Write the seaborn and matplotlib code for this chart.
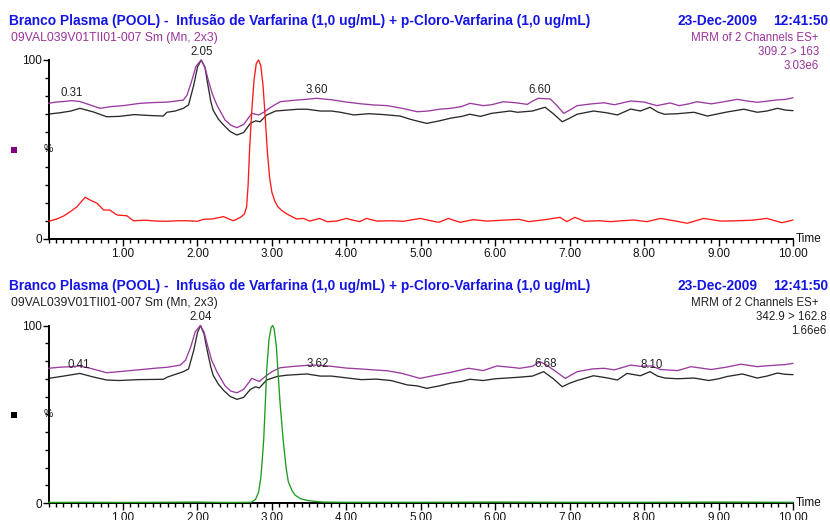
import numpy as np
import pandas as pd
import matplotlib
matplotlib.use("Agg")
import matplotlib.pyplot as plt
from matplotlib.patches import Rectangle
from matplotlib.ticker import MultipleLocator, FixedLocator
import seaborn as sns

# ---------------- data (retention time in min, relative intensity in %) ----------------
# upper panel: 309.2 > 163 (red) with the two infusion baselines
top_purple_t = [0.00, 0.10, 0.20, 0.31, 0.42, 0.55, 0.69, 0.85, 1.00, 1.23,
                1.40, 1.60, 1.81, 1.86, 1.92, 1.98, 2.05, 2.10, 2.15, 2.20,
                2.26, 2.37, 2.45, 2.53, 2.62, 2.73, 2.82, 2.89, 2.98, 3.11,
                3.30, 3.45, 3.60, 3.80, 4.00, 4.20, 4.36, 4.55, 4.75, 4.95,
                5.10, 5.25, 5.40, 5.55, 5.66, 5.84, 5.95, 6.11, 6.30, 6.43,
                6.50, 6.58, 6.74, 6.83, 6.92, 7.00, 7.10, 7.30, 7.46, 7.60,
                7.82, 8.00, 8.17, 8.35, 8.47, 8.60, 8.71, 8.90, 9.05, 9.25,
                9.40, 9.52, 9.65, 9.79, 9.90, 10.00]
top_purple_v = [75.8, 76.5, 76.8, 77.3, 76.8, 75.0, 73.0, 74.0, 74.5, 75.8,
                76.2, 76.5, 77.6, 80.4, 88.0, 96.5, 100.0, 96.0, 88.0, 81.0,
                74.9, 66.5, 63.5, 62.2, 64.0, 70.2, 69.3, 70.8, 73.5, 76.7,
                77.5, 78.0, 78.6, 77.8, 76.5, 75.5, 74.9, 74.5, 73.0, 71.1,
                71.5, 72.5, 73.0, 74.0, 75.8, 74.5, 75.0, 76.7, 76.0, 75.2,
                77.0, 78.6, 78.2, 74.5, 70.2, 72.0, 74.5, 75.5, 76.1, 75.0,
                77.1, 76.5, 74.5, 76.0, 74.5, 75.5, 76.7, 75.5, 76.5, 78.0,
                77.0, 76.4, 77.0, 77.7, 78.0, 78.9]

top_black_t = [0.00, 0.15, 0.30, 0.42, 0.60, 0.78, 0.95, 1.15, 1.35, 1.54,
               1.59, 1.70, 1.81, 1.88, 1.95, 2.00, 2.05, 2.10, 2.14, 2.18,
               2.21, 2.28, 2.35, 2.44, 2.53, 2.62, 2.71, 2.78, 2.84, 2.93,
               3.05, 3.20, 3.35, 3.47, 3.65, 3.80, 3.92, 4.10, 4.30, 4.50,
               4.72, 4.85, 4.95, 5.08, 5.25, 5.40, 5.55, 5.66, 5.80, 5.95,
               6.20, 6.30, 6.50, 6.67, 6.78, 6.90, 7.00, 7.10, 7.32, 7.50,
               7.64, 7.82, 7.95, 8.08, 8.18, 8.27, 8.45, 8.67, 8.85, 9.00,
               9.12, 9.34, 9.52, 9.65, 9.79, 9.90, 10.00]
top_black_v = [69.8, 70.5, 71.5, 73.0, 71.0, 68.3, 68.5, 69.5, 69.0, 68.7,
               70.8, 71.5, 73.0, 74.9, 86.0, 96.0, 100.0, 96.0, 86.0, 76.7,
               72.0, 67.0, 63.7, 60.0, 58.1, 59.5, 64.6, 66.0, 65.5, 69.3,
               71.5, 72.0, 72.5, 72.5, 71.5, 71.5, 70.8, 69.3, 70.0, 69.5,
               68.7, 67.0, 65.9, 64.6, 66.0, 67.5, 68.5, 69.7, 68.5, 70.2,
               71.5, 70.8, 71.5, 73.6, 70.0, 65.5, 67.5, 69.7, 71.5, 70.5,
               69.3, 72.6, 71.5, 73.6, 71.0, 69.7, 70.0, 70.8, 68.7, 70.0,
               71.0, 72.5, 70.8, 71.5, 73.0, 72.0, 71.7]

top_red_t = [0.00, 0.10, 0.20, 0.30, 0.38, 0.49, 0.57, 0.65, 0.74, 0.82,
             0.92, 1.05, 1.14, 1.30, 1.45, 1.59, 1.75, 1.86, 2.00, 2.08,
             2.20, 2.35, 2.48, 2.55, 2.59, 2.63, 2.66, 2.68, 2.70, 2.73,
             2.76, 2.79, 2.82, 2.85, 2.88, 2.91, 2.94, 2.97, 3.00, 3.04,
             3.08, 3.13, 3.20, 3.27, 3.33, 3.42, 3.51, 3.64, 3.74, 3.87,
             4.00, 4.09, 4.18, 4.27, 4.41, 4.60, 4.77, 4.99, 5.10, 5.24,
             5.37, 5.53, 5.70, 5.89, 6.10, 6.32, 6.45, 6.67, 6.87, 6.96,
             7.07, 7.20, 7.40, 7.55, 7.70, 7.86, 8.04, 8.22, 8.40, 8.58,
             8.80, 9.03, 9.25, 9.45, 9.65, 9.85, 10.00]
top_red_v = [9.9, 11.0, 12.8, 15.5, 18.0, 23.3, 21.5, 20.0, 16.2, 16.2,
             13.4, 13.0, 10.2, 10.5, 10.0, 9.9, 10.2, 10.2, 9.9, 11.0,
             11.2, 12.5, 10.2, 11.5, 12.5, 14.0, 18.0, 30.0, 50.0, 72.0,
             89.0, 98.0, 100.0, 97.0, 86.0, 68.0, 48.0, 34.0, 26.0, 21.0,
             18.0, 16.0, 14.0, 12.5, 11.2, 11.5, 10.0, 11.5, 9.7, 10.0,
             11.5, 10.5, 9.7, 11.5, 10.0, 10.2, 9.9, 11.5, 10.5, 9.3,
             11.5, 9.3, 10.8, 10.0, 10.5, 11.0, 9.7, 10.8, 12.1, 9.7,
             12.1, 9.9, 10.2, 9.7, 10.2, 10.6, 9.7, 11.5, 10.2, 8.8,
             11.5, 10.0, 10.2, 10.5, 11.5, 9.1, 10.6]

# lower panel: 342.9 > 162.8 (green) with the two infusion baselines
bot_purple_t = [0.00, 0.15, 0.30, 0.41, 0.55, 0.78, 0.95, 1.20, 1.45, 1.60,
                1.77, 1.84, 1.91, 1.97, 2.04, 2.09, 2.14, 2.19, 2.26, 2.37,
                2.45, 2.53, 2.62, 2.73, 2.83, 2.91, 3.00, 3.11, 3.30, 3.45,
                3.62, 3.80, 4.00, 4.20, 4.36, 4.55, 4.75, 4.99, 5.20, 5.40,
                5.64, 5.84, 6.02, 6.20, 6.33, 6.50, 6.60, 6.69, 6.80, 6.94,
                7.10, 7.30, 7.46, 7.60, 7.82, 7.95, 8.10, 8.22, 8.45, 8.63,
                8.90, 9.10, 9.30, 9.52, 9.65, 9.79, 9.90, 10.00]
bot_purple_v = [75.9, 76.5, 76.8, 77.2, 76.0, 73.4, 74.0, 75.0, 76.0, 76.5,
                77.7, 80.5, 88.0, 96.5, 100.0, 96.0, 88.0, 80.5, 74.0, 66.0,
                63.0, 62.1, 64.0, 70.2, 68.5, 71.3, 74.0, 76.2, 77.0, 77.5,
                77.7, 77.0, 76.0, 75.5, 75.0, 74.5, 73.0, 70.2, 72.0, 73.6,
                75.9, 74.6, 77.2, 76.5, 75.9, 77.0, 79.6, 77.7, 74.5, 70.2,
                74.0, 75.5, 75.9, 75.0, 77.7, 77.0, 77.2, 75.2, 74.6, 76.8,
                75.2, 76.5, 78.2, 76.8, 77.3, 77.7, 78.0, 78.7]

bot_black_t = [0.00, 0.20, 0.42, 0.60, 0.78, 0.95, 1.20, 1.54, 1.60, 1.81,
               1.88, 1.95, 2.00, 2.04, 2.09, 2.13, 2.18, 2.21, 2.28, 2.35,
               2.44, 2.53, 2.62, 2.71, 2.78, 2.83, 2.93, 3.07, 3.20, 3.47,
               3.65, 3.80, 4.00, 4.20, 4.40, 4.60, 4.82, 4.95, 5.08, 5.25,
               5.40, 5.55, 5.66, 5.84, 6.00, 6.15, 6.30, 6.50, 6.65, 6.78,
               6.90, 7.00, 7.10, 7.32, 7.50, 7.64, 7.77, 7.95, 8.08, 8.18,
               8.28, 8.45, 8.67, 8.87, 9.00, 9.12, 9.32, 9.52, 9.65, 9.79,
               9.90, 10.00]
bot_black_v = [70.2, 71.5, 73.0, 71.0, 69.3, 69.0, 69.5, 69.7, 71.0, 74.0,
               75.5, 86.0, 96.0, 100.0, 95.0, 86.0, 76.5, 72.0, 67.0, 63.5,
               60.0, 58.4, 59.5, 64.0, 65.5, 64.8, 69.3, 71.3, 72.0, 72.7,
               71.5, 71.5, 70.5, 69.5, 69.8, 69.0, 66.5, 66.0, 64.6, 66.0,
               67.5, 68.5, 69.7, 69.0, 70.0, 70.4, 70.8, 71.5, 74.0, 70.0,
               65.5, 67.5, 69.0, 71.7, 70.5, 69.3, 73.0, 71.7, 74.0, 71.5,
               70.4, 70.0, 70.4, 69.0, 70.0, 71.3, 72.7, 70.4, 71.5, 73.2,
               72.5, 72.3]

bot_green_t = [0.00, 0.50, 1.00, 1.50, 2.00, 2.40, 2.72, 2.78, 2.82, 2.85,
               2.87, 2.89, 2.91, 2.93, 2.96, 2.99, 3.01, 3.03, 3.06, 3.08,
               3.11, 3.15, 3.19, 3.22, 3.27, 3.31, 3.38, 3.47, 3.60, 3.70,
               4.00, 5.00, 6.00, 7.00, 8.00, 9.00, 10.00]
bot_green_v = [0.3, 0.4, 0.3, 0.4, 0.5, 0.3, 0.4, 2.0, 6.0, 14.0,
               24.0, 36.0, 55.0, 75.0, 92.0, 99.0, 100.0, 98.0, 88.0, 75.0,
               56.0, 36.0, 20.0, 12.0, 7.0, 4.5, 2.5, 1.5, 0.8, 0.5,
               0.4, 0.4, 0.5, 0.4, 0.4, 0.5, 0.4]

# peak retention-time labels
top_labels = [0.31, 2.05, 3.60, 6.60]
bot_labels = [0.41, 2.04, 3.62, 6.68, 8.10]

title_text = "Branco Plasma (POOL) -  Infusão de Varfarina (1,0 ug/mL) + p-Cloro-Varfarina (1,0 ug/mL)"
sample_text = "09VAL039V01TII01-007 Sm (Mn, 2x3)"
date_text = "23-Dec-2009"
clock_text = "12:41:50"
top_info = ["MRM of 2 Channels ES+", "309.2 > 163", "3.03e6"]
bot_info = ["MRM of 2 Channels ES+", "342.9 > 162.8", "1.66e6"]
x_ticks = [1, 2, 3, 4, 5, 6, 7, 8, 9, 10]

# ---------------- styling ----------------
sns.set_theme(style="ticks")
plt.rcParams["font.family"] = ["Liberation Sans", "DejaVu Sans"]

W, H = 830, 520
fig = plt.figure(figsize=(W / 100, H / 100), dpi=100)

PURPLE = "#9a3aa0"
BLACK = "#2a2a2a"
RED = "#ff1a1a"
GREEN = "#1e9a1e"
BLUE = "#1414e6"
TEXT_PURPLE = "#993399"


def fx(px):
    return px / W


def fy(py):
    return 1 - py / H


def make_axes(y100, y0):
    x0, x10 = 48.6, 793.0
    ax = fig.add_axes([fx(x0), fy(y0), fx(x10 - x0), (y0 - y100) / H])
    ax.set_xlim(0, 10)
    ax.set_ylim(0, 100)
    ax.set_facecolor("white")
    for s in ("top", "right"):
        ax.spines[s].set_visible(False)
    for s in ("left", "bottom"):
        ax.spines[s].set_color("black")
        ax.spines[s].set_linewidth(1.4)
    ax.xaxis.set_major_locator(FixedLocator(x_ticks))
    ax.xaxis.set_minor_locator(MultipleLocator(0.1))
    ax.set_xticklabels([f"{v:.2f}" for v in x_ticks])
    ax.yaxis.set_major_locator(FixedLocator([0, 100]))
    ax.yaxis.set_minor_locator(MultipleLocator(10))
    ax.tick_params(axis="x", which="major", length=5, width=1, color="black",
                   labelsize=8.5, pad=1.2, labelcolor="#111")
    ax.tick_params(axis="x", which="minor", length=3, width=1, color="black")
    ax.tick_params(axis="y", which="major", length=4, width=1, color="black",
                   labelsize=8.5, pad=1, labelcolor="#111")
    ax.tick_params(axis="y", which="minor", length=3, width=1, color="black")
    ax.set_xlabel("")
    ax.set_ylabel("")
    ax.text(1.004, 0.0, "Time", transform=ax.transAxes, fontsize=8.5,
            ha="left", va="center", color="#111")
    ax.text(-0.001, 0.5, "%", transform=ax.transAxes, fontsize=7.5,
            ha="center", va="center", color="#111")
    return ax


def trace(ax, t, v, color, z):
    df = pd.DataFrame({"time": t, "intensity": v})
    sns.lineplot(data=df, x="time", y="intensity", ax=ax, color=color,
                 linewidth=0.95, estimator=None, sort=False, zorder=z)
    for ln in ax.lines:
        ln.set_clip_on(False)
    ax.set_xlabel("")
    ax.set_ylabel("")


def header(y_title, y_sub, info, sub_color, info_color, info_right):
    fig.text(fx(9), fy(y_title), title_text, fontsize=9.9, fontweight="bold",
             color=BLUE, ha="left", va="center")
    fig.text(fx(757), fy(y_title), date_text, fontsize=9.9, fontweight="bold",
             color=BLUE, ha="right", va="center")
    fig.text(fx(828), fy(y_title), clock_text, fontsize=9.9, fontweight="bold",
             color=BLUE, ha="right", va="center")
    fig.text(fx(11), fy(y_sub), sample_text, fontsize=8.7, color=sub_color,
             ha="left", va="center")
    for i, line in enumerate(info):
        fig.text(fx(info_right[i]), fy(y_sub + 14 * i), line, fontsize=8.3,
                 color=info_color, ha="right", va="center")


# ---------------- upper panel ----------------
ax1 = make_axes(60, 239)
trace(ax1, top_black_t, top_black_v, BLACK, 2)
trace(ax1, top_purple_t, top_purple_v, PURPLE, 3)
trace(ax1, top_red_t, top_red_v, RED, 4)
for rt in top_labels:
    yv = np.interp(rt, top_purple_t, top_purple_v)
    ax1.annotate(f"{rt:.2f}", (rt, yv), xytext=(0, 1.5), textcoords="offset points",
                 ha="center", va="bottom", fontsize=8.3, color="#222",
                 annotation_clip=False)
header(21, 38, top_info, TEXT_PURPLE, TEXT_PURPLE, [819, 819, 819])
fig.add_artist(Rectangle((fx(11), fy(153)), fx(6), 6 / H, transform=fig.transFigure,
                         facecolor="#800080", edgecolor="none"))

# ---------------- lower panel ----------------
ax2 = make_axes(325.5, 503)
trace(ax2, bot_black_t, bot_black_v, BLACK, 2)
trace(ax2, bot_purple_t, bot_purple_v, PURPLE, 3)
trace(ax2, bot_green_t, bot_green_v, GREEN, 4)
for rt in bot_labels:
    yv = np.interp(rt, bot_purple_t, bot_purple_v)
    if rt == 2.04:
        ax2.annotate(f"{rt:.2f}", (rt, yv), xytext=(0, 1.5), textcoords="offset points",
                     ha="center", va="bottom", fontsize=8.3, color="#222",
                     annotation_clip=False)
    else:
        ax2.annotate(f"{rt:.2f}", (rt, yv), xytext=(0, 0.5), textcoords="offset points",
                     ha="center", va="center", fontsize=8.3, color="#222",
                     annotation_clip=False, zorder=5)
header(286, 303, bot_info, "#222", "#222", [819, 827, 827])
fig.add_artist(Rectangle((fx(11), fy(418)), fx(6), 6 / H, transform=fig.transFigure,
                         facecolor="black", edgecolor="none"))

fig.savefig("out.png", dpi=100, facecolor="white")
